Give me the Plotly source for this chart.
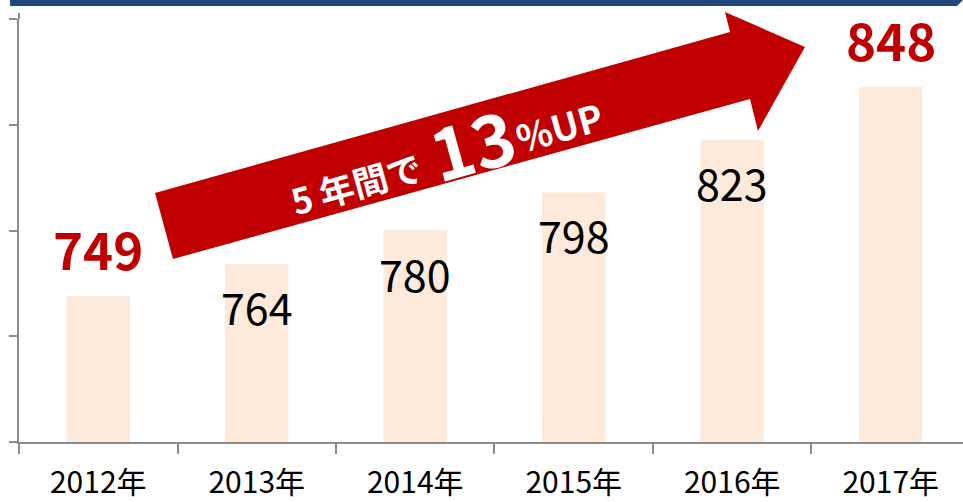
import plotly.graph_objects as go

# data
years = ["2012年", "2013年", "2014年", "2015年", "2016年", "2017年"]
values = [749, 764, 780, 798, 823, 848]
highlight = [True, False, False, False, False, True]

W, H = 963, 502
ML, MR, MT, MB = 19, 0, 19, 60
FONT = "Noto Sans CJK JP, Noto Sans, sans-serif"
GRAY = "#8c8c8c"
RED = "#C00000"

def paper(x, y):
    # pixel -> paper coordinates
    return (x - ML) / (W - ML - MR), (H - MB - y) / (H - MT - MB)

fig = go.Figure()
fig.add_trace(go.Bar(x=years, y=values, width=0.4,
                     marker=dict(color="#FDEADA", line=dict(width=0)),
                     hoverinfo="x+y"))

# data labels
for yr, v, hl in zip(years, values, highlight):
    if hl:
        fig.add_annotation(x=yr, y=v, text=f"<b>{v}</b>", showarrow=False,
                           yanchor="middle", yshift=48,
                           font=dict(family=FONT, size=51, color=RED))
    else:
        fig.add_annotation(x=yr, y=v, text=str(v), showarrow=False,
                           yanchor="middle", yshift=-42,
                           font=dict(family=FONT, size=43, color="black"))

# big red arrow
pts = [(173, 259), (155, 193), (730, 32), (725, 12), (805, 47),
       (758, 131), (750, 99)]
path = "M " + " L ".join("%.4f,%.4f" % paper(*p) for p in pts) + " Z"
fig.add_shape(type="path", path=path, xref="paper", yref="paper",
              fillcolor=RED, line=dict(width=0))

# arrow caption, three pieces along the arrow
for txt, size, (px, py) in [("5 年間で", 35, (356, 182)),
                             ("13", 72, (471, 141)),
                             ("%UP", 37, (559, 126))]:
    ax, ay = paper(px, py)
    fig.add_annotation(xref="paper", yref="paper", x=ax, y=ay,
                       showarrow=False, textangle=-15.6,
                       xanchor="center", yanchor="middle",
                       text=f"<b>{txt}</b>",
                       font=dict(family=FONT, size=size, color="white"))

# blue band on top
b = [paper(10, 0), paper(963, 0), paper(957, 6), paper(10, 6)]
fig.add_shape(type="path", xref="paper", yref="paper",
              path="M " + " L ".join("%.4f,%.4f" % p for p in b) + " Z",
              fillcolor="#1F497D", line=dict(width=0))

# y axis line runs a little above the plot area
fig.add_shape(type="line", xref="paper", yref="paper", x0=0, x1=0,
              y0=1, y1=paper(0, 13)[1], line=dict(color=GRAY, width=2))

fig.update_layout(
    width=W, height=H,
    margin=dict(l=ML, r=MR, t=MT, b=MB),
    paper_bgcolor="white", plot_bgcolor="white",
    showlegend=False,
    xaxis=dict(type="category", range=[-0.5, 5.456], tickson="boundaries",
               ticks="outside", ticklen=10, tickcolor=GRAY, tickwidth=1.5,
               showline=True, linecolor=GRAY, linewidth=2, showgrid=False,
               automargin=False, ticklabelstandoff=13,
               tickfont=dict(family=FONT, size=30, color="black")),
    yaxis=dict(range=[680, 880], dtick=50, tick0=680, showticklabels=False,
               ticks="outside", ticklen=8, tickcolor=GRAY, tickwidth=1.5,
               showline=True, linecolor=GRAY, linewidth=2, showgrid=False,
               zeroline=False, automargin=False),
)

fig.write_html("out.html", config={"displayModeBar": False},
               post_script="document.body.style.margin='0';")
